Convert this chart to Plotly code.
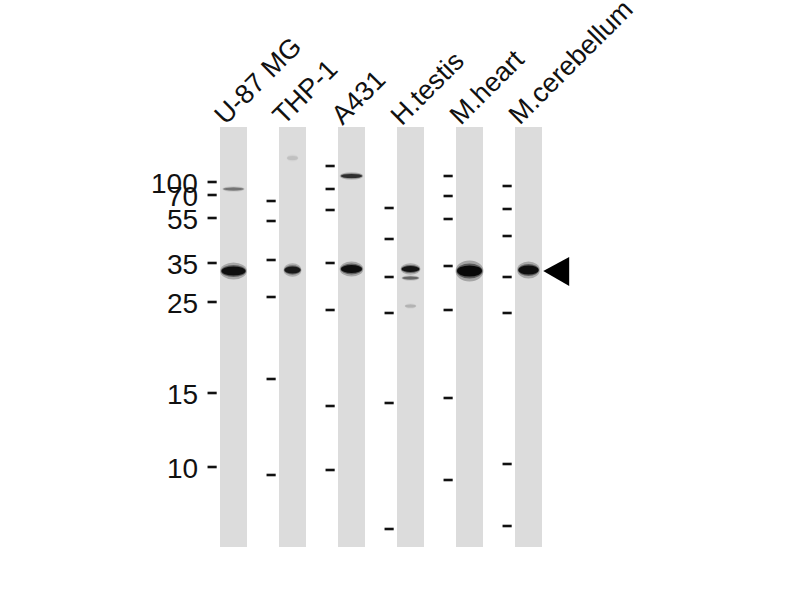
import plotly.graph_objects as go

# samples (one lane each)
lanes = ["U-87 MG", "THP-1", "A431", "H.testis", "M.heart", "M.cerebellum"]

# molecular weight ladder shown left of the first lane (kDa) and where it ran
mw_labels = ["100", "70", "55", "35", "25", "15", "10"]
mw_rows = [182, 195, 218, 263, 302, 393, 467]

# marker ticks of every lane (migration row, top of picture = 0)
marker_rows = [
    [182, 195, 218, 263, 302, 393, 467],
    [201, 221, 260, 297, 379, 475],
    [166, 189, 210, 263, 310, 406, 470],
    [208, 239, 277, 313, 403, 529],
    [176, 196, 219, 266, 310, 398, 480],
    [186, 209, 236, 277, 313, 464, 526],
]

# bands: lane index, migration row, signal (0..1), band spread (fraction of lane)
band_lane = [0, 0, 1, 1, 2, 2, 3, 3, 3, 4, 5]
band_row = [271, 189, 270, 158, 269, 176, 269, 278, 306, 271, 270]
band_signal = [0.95, 0.35, 0.85, 0.08, 0.95, 0.7, 0.9, 0.4, 0.12, 1.0, 0.95]
band_spread = [0.88, 0.75, 0.6, 0.4, 0.78, 0.78, 0.66, 0.6, 0.4, 0.92, 0.75]
band_thick = [9, 3, 7, 4, 8, 4, 6, 3, 3, 11, 9]

target_lane = 5
target_row = 271

lane_top, lane_bottom = 127, 547
lane_w = 0.46   # lane width in lane units (1 lane step = 59px)
step = 59.0

fig = go.Figure()

# lanes as grey bars
fig.add_trace(go.Bar(x=list(range(len(lanes))), y=[lane_bottom - lane_top] * len(lanes),
                     base=lane_top, width=lane_w, marker=dict(color="#dcdcdc", line=dict(width=0)),
                     hoverinfo="skip", showlegend=False))

# marker ticks
tx, ty = [], []
for i, rows in enumerate(marker_rows):
    for r in rows:
        tx += [i - 0.44, i - 0.285, None]
        ty += [r, r, None]
fig.add_trace(go.Scatter(x=tx, y=ty, mode="lines", line=dict(color="#111", width=2.6),
                         hoverinfo="skip", showlegend=False))

# bands as blurred ellipses
shapes = []
for ln, r, s, sp, th in zip(band_lane, band_row, band_signal, band_spread, band_thick):
    hw = sp * lane_w / 2
    for scale_w, scale_h, op in [(1.12, 1.9, 0.25), (1.05, 1.35, 0.45), (1.0, 1.0, 0.9)]:
        shapes.append(dict(type="circle", xref="x", yref="y",
                           x0=ln - hw * scale_w, x1=ln + hw * scale_w,
                           y0=r - th * scale_h / 2, y1=r + th * scale_h / 2,
                           fillcolor="black", opacity=op * s, line=dict(width=0), layer="above"))

# arrow pointing at the target band
tip = target_lane + lane_w / 2 + 0.02
shapes.append(dict(type="path", xref="x", yref="y",
                   path=f"M {tip} {target_row} L {tip + 0.44} {target_row - 14} "
                        f"L {tip + 0.44} {target_row + 15} Z",
                   fillcolor="black", line=dict(width=0)))

annotations = []
for lab, r in zip(mw_labels, mw_rows):
    annotations.append(dict(x=-0.57, y=r + 1, text=lab, showarrow=False, xanchor="right",
                            yanchor="middle", font=dict(size=28, color="#111", family="Liberation Sans")))

for i, name in enumerate(lanes):
    annotations.append(dict(x=i - lane_w / 2 - 0.25, y=133, text=name, showarrow=False,
                            textangle=-45, xanchor="left", yanchor="bottom",
                            font=dict(size=27, color="#111", family="Liberation Sans")))

fig.update_layout(
    width=800, height=600,
    margin=dict(l=0, r=0, t=0, b=0),
    paper_bgcolor="white", plot_bgcolor="white",
    xaxis=dict(range=[-233.5 / step, 566.5 / step], visible=False, fixedrange=True),
    yaxis=dict(range=[600, 0], visible=False, fixedrange=True),
    shapes=shapes, annotations=annotations,
    bargap=0,
)

fig.write_html("out.html", config={"displayModeBar": False},
               post_script="document.body.style.margin='0';")
